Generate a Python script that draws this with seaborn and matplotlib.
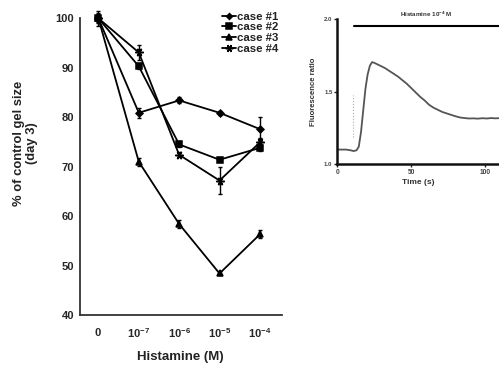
import numpy as np
import pandas as pd
import matplotlib
matplotlib.use("Agg")
import matplotlib.pyplot as plt
import seaborn as sns

# ---- data: main panel ----
conc_labels = [r"$\mathbf{0}$", r"$\mathbf{10^{-7}}$", r"$\mathbf{10^{-6}}$",
               r"$\mathbf{10^{-5}}$", r"$\mathbf{10^{-4}}$"]
cases = ["case #1", "case #2", "case #3", "case #4"]
case1 = [100, 80.9, 83.4, 80.9, 77.6]
case2 = [100, 90.3, 74.5, 71.4, 73.8]
case3 = [100, 71.0, 58.4, 48.4, 56.3]
case4 = [100, 93.1, 72.4, 67.2, 74.9]
err1 = [1.5, 1.0, 0.6, 0.4, 2.5]
err2 = [0.8, 0.6, 0.6, 0.5, 0.6]
err3 = [0.5, 0.8, 0.8, 0.4, 0.8]
err4 = [1.0, 1.5, 0.5, 2.8, 0.8]
yticks = [40, 50, 60, 70, 80, 90, 100]

# ---- data: inset trace ----
trace_t = [0, 3, 6, 9, 11, 13, 14.5, 16, 17.5, 19, 20.5, 22, 23.5, 25, 27, 29,
           32, 35, 38, 41, 44, 47, 50, 53, 56, 59, 62, 65, 68, 71, 74, 77, 80,
           83, 86, 89, 92, 95, 98, 101, 104, 107, 110]
trace_r = [1.10, 1.10, 1.10, 1.095, 1.09, 1.095, 1.12, 1.22, 1.37, 1.52, 1.62,
           1.68, 1.705, 1.70, 1.69, 1.68, 1.665, 1.645, 1.625, 1.605, 1.58,
           1.555, 1.525, 1.495, 1.465, 1.44, 1.41, 1.39, 1.375, 1.36, 1.35,
           1.34, 1.33, 1.322, 1.318, 1.315, 1.316, 1.314, 1.317, 1.315, 1.318,
           1.316, 1.318]
inset_xticks = [0, 50, 100]
inset_yticks = [1.0, 1.5, 2.0]
inset_yticklabels = ["1.0", "1.5", "2.0"]
stim_t = [10.8, 10.8]
stim_r = [1.19, 1.48]
bar_t = [11, 110]
bar_r = [1.955, 1.955]

sns.set_style("white")
plt.rcParams["font.family"] = ["Liberation Sans", "DejaVu Sans"]
plt.rcParams["font.weight"] = "bold"
plt.rcParams["mathtext.fontset"] = "custom"
plt.rcParams["mathtext.bf"] = "Liberation Sans:bold"
plt.rcParams["mathtext.rm"] = "Liberation Sans:bold"

fig = plt.figure(figsize=(4.99, 3.67), dpi=100)
ax = fig.add_axes([0.160, 0.1417, 0.4045, 0.8083])

xpos = list(range(len(conc_labels)))
all_vals = [case1, case2, case3, case4]
all_err = [err1, err2, err3, err4]
df = pd.DataFrame({
    "x": xpos * len(cases),
    "y": sum(all_vals, []),
    "case": sum([[c] * len(xpos) for c in cases], []),
})
markers = {"case #1": "D", "case #2": "s", "case #3": "^", "case #4": "X"}
final_markers = {"case #1": "D", "case #2": "s", "case #3": "^", "case #4": (6, 2, 90)}
sizes_m = {"case #1": 3.5, "case #2": 5, "case #3": 5, "case #4": 6}

sns.lineplot(data=df, x="x", y="y", hue="case", style="case",
             palette=["black"] * 4, markers=markers, dashes=False,
             linewidth=1.3, markersize=5, markeredgecolor="black",
             markeredgewidth=1.1, ax=ax, legend=True)

for line in ax.get_lines():
    line.set_clip_on(False)
    yd = list(np.asarray(line.get_ydata(), dtype=float))
    for c, vals in zip(cases, all_vals):
        if len(yd) == len(vals) and np.allclose(yd, vals):
            line.set_marker(final_markers[c])
            line.set_markersize(sizes_m[c])

for vals, err in zip(all_vals, all_err):
    ax.errorbar(xpos, vals, yerr=err, fmt="none", ecolor="black",
                elinewidth=1.0, capsize=1.5, capthick=1.0, clip_on=False)

ax.set_xlim(-0.46, 4.54)
ax.set_ylim(40, 100)
ax.set_yticks(yticks)
ax.set_yticklabels([str(v) for v in yticks], fontsize=8, fontweight="bold")
ax.set_xticks(xpos)
ax.set_xticklabels(conc_labels, fontsize=8)
ax.tick_params(axis="both", length=0)
ax.tick_params(axis="x", pad=8)
ax.tick_params(axis="y", pad=4)
ax.set_xlabel("Histamine (M)", fontsize=9.5, fontweight="bold", labelpad=8,
              color="#222222")
ax.set_ylabel("% of control gel size\n(day 3)", fontsize=9.4, fontweight="bold",
              color="#222222", linespacing=1.15)
ax.yaxis.set_label_coords(-0.205, 0.58)
for s in ["top", "right"]:
    ax.spines[s].set_visible(False)
for s in ["left", "bottom"]:
    ax.spines[s].set_linewidth(1.3)
    ax.spines[s].set_color("#333333")

h, l = ax.get_legend_handles_labels()
for hh, ll in zip(h, l):
    if ll in final_markers:
        hh.set_marker(final_markers[ll])
        hh.set_markersize(sizes_m[ll] - 0.5)
    hh.set_markeredgecolor("black")
    hh.set_markerfacecolor("black")
    hh.set_color("black")
    hh.set_linewidth(1.3)
leg = ax.legend(h, l, loc="upper right", bbox_to_anchor=(0.985, 1.022),
                frameon=False, fontsize=8.2, handlelength=1.2,
                handletextpad=0.1, labelspacing=0.05, borderpad=0,
                borderaxespad=0)
for t in leg.get_texts():
    t.set_fontweight("bold")
    t.set_color("#222222")

# ---- inset ----
ax2 = fig.add_axes([0.676, 0.553, 0.324, 0.394])
sns.lineplot(x=trace_t, y=trace_r, ax=ax2, color="#555555", linewidth=1.3)
ax2.plot(stim_t, stim_r, color="#aaaaaa", linestyle=":", linewidth=0.8)
ax2.plot(bar_t, bar_r, color="black", linewidth=1.5, clip_on=False)
ax2.text(60, 2.005, r"Histamine 10$^{-4}$ M", fontsize=4.5, ha="center",
         va="bottom", color="#333333", fontweight="bold")
ax2.set_xlim(0, 109.3)
ax2.set_ylim(1.0, 2.0)
ax2.set_xticks(inset_xticks)
ax2.set_xticklabels([str(v) for v in inset_xticks], fontsize=4.8,
                    fontweight="bold", color="#333333")
ax2.set_yticks(inset_yticks)
ax2.set_yticklabels(inset_yticklabels, fontsize=4.3, color="#555555")
ax2.tick_params(axis="both", length=2, width=1, direction="out", pad=1.5,
                colors="#222222", labelcolor="#444444", bottom=True, left=True)
ax2.set_xlabel("Time (s)", fontsize=6, fontweight="bold", labelpad=2,
               color="#333333")
ax2.set_ylabel("Fluorescence ratio", fontsize=5.6, fontweight="bold",
               labelpad=5, color="#333333")
for s in ["top", "right"]:
    ax2.spines[s].set_visible(False)
for s in ["left", "bottom"]:
    ax2.spines[s].set_linewidth(1.8)
    ax2.spines[s].set_color("#111111")

fig.savefig("out.png", dpi=100)
